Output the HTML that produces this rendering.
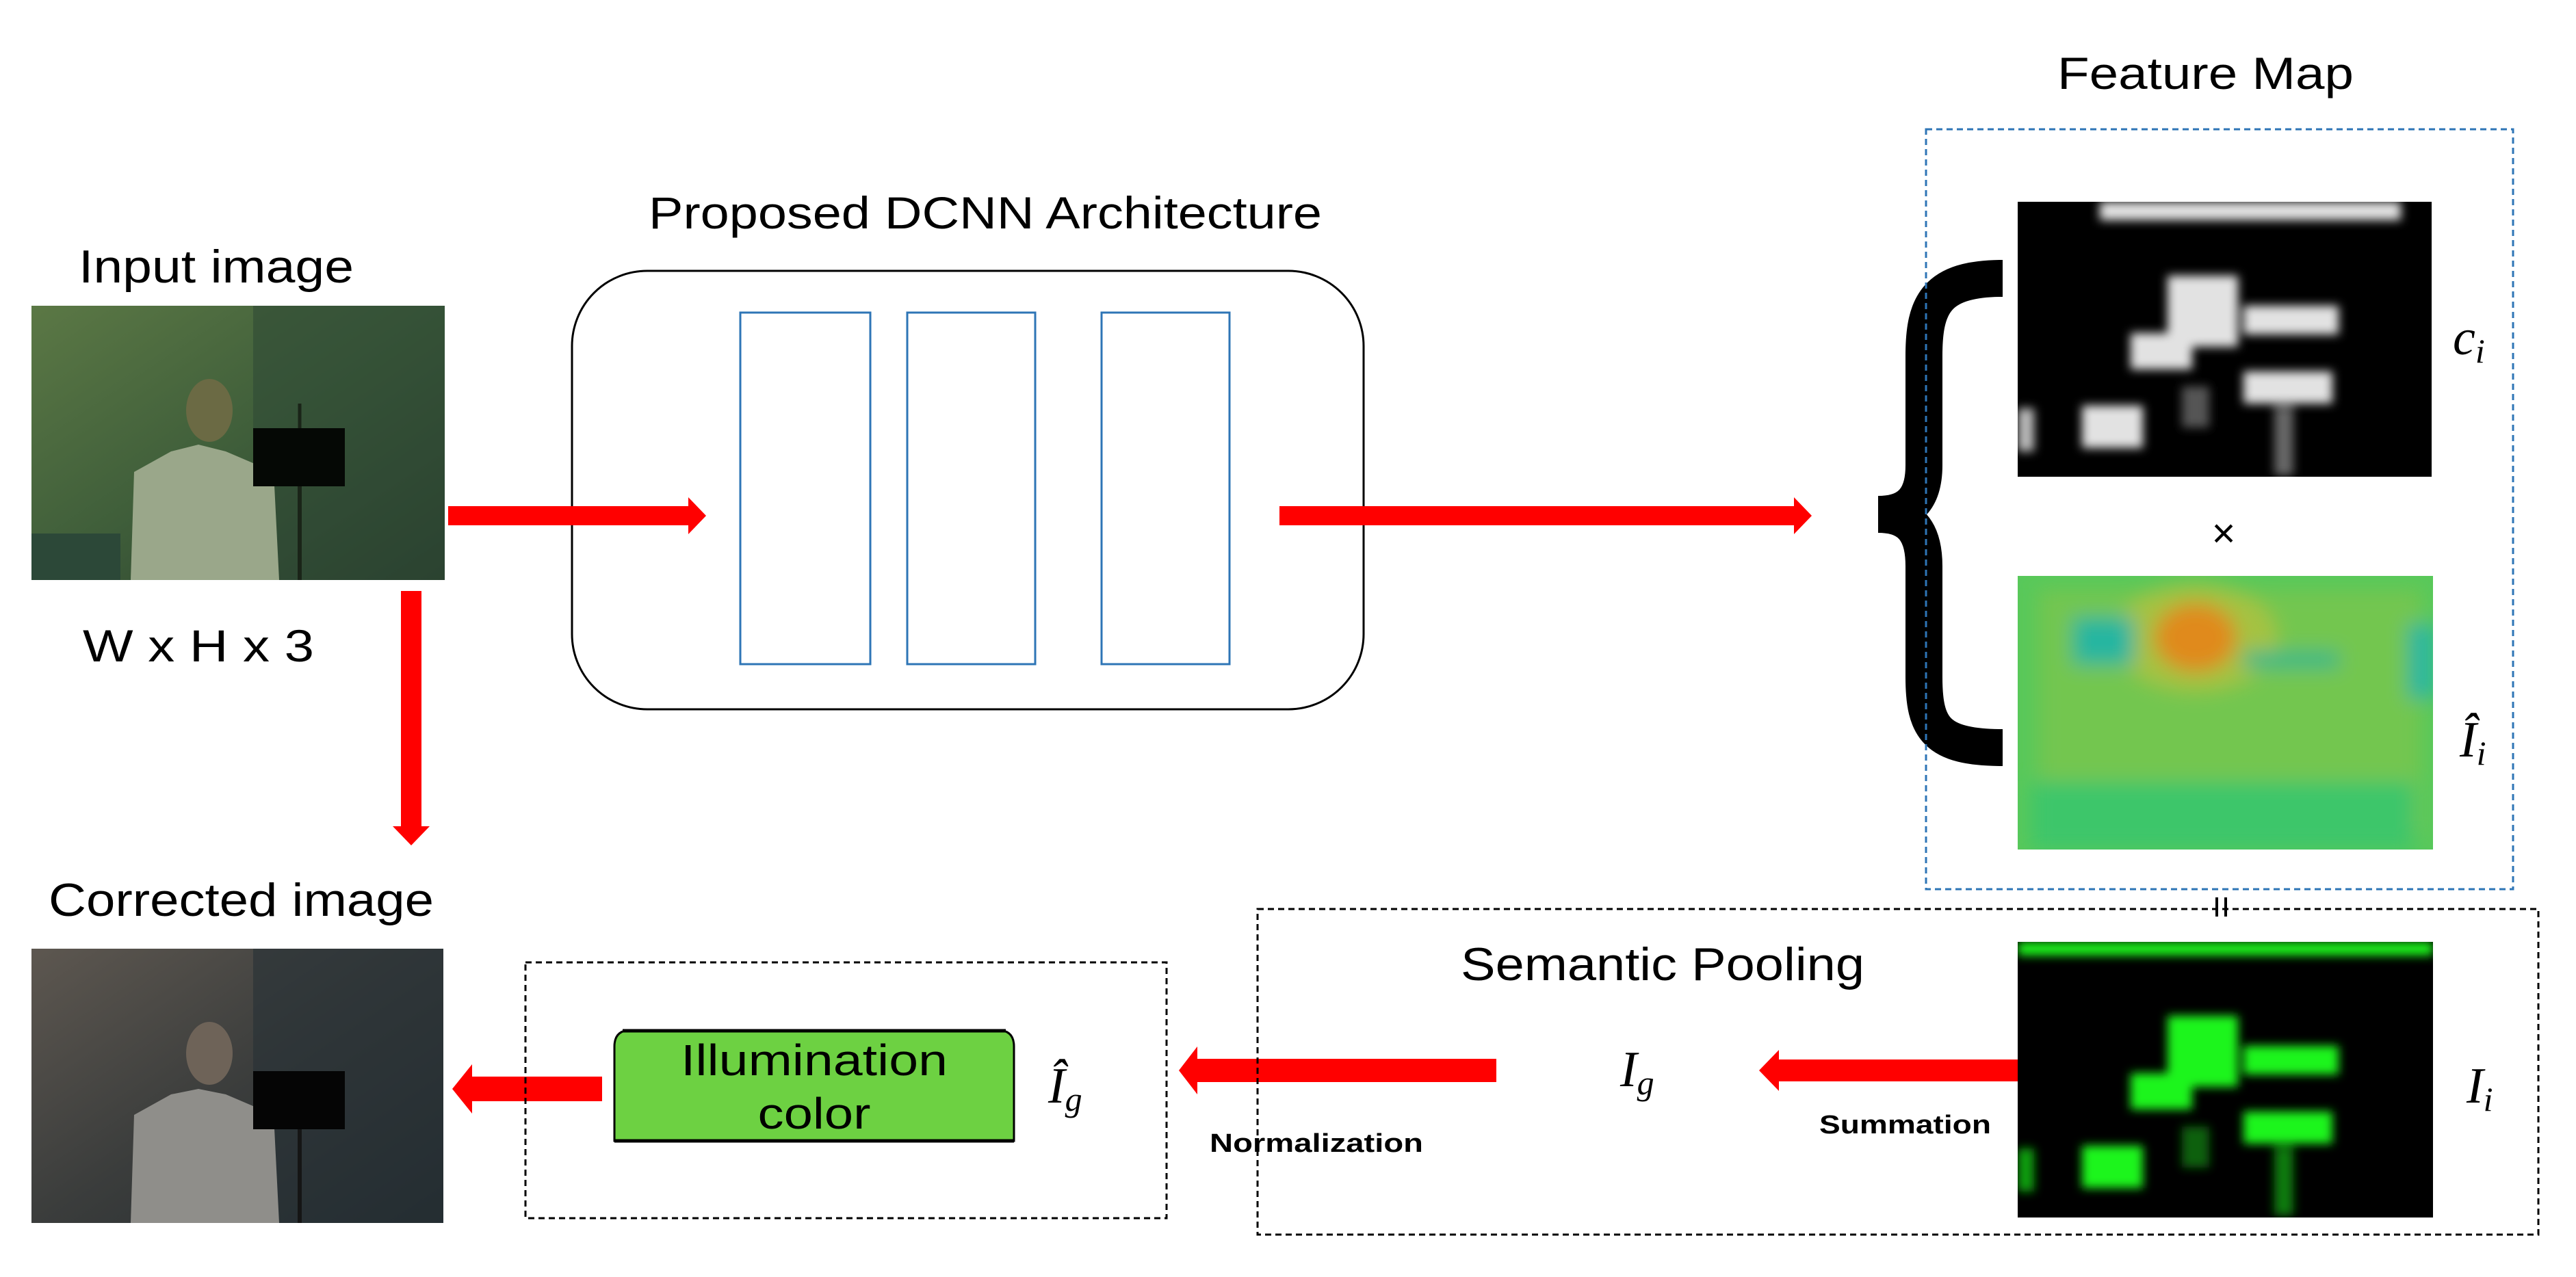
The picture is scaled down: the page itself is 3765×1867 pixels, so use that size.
<!DOCTYPE html>
<html><head><meta charset="utf-8"><style>html,body{margin:0;padding:0;background:#fff}svg{display:block}</style></head>
<body>
<svg width="3765" height="1867" viewBox="0 0 3765 1867" xmlns="http://www.w3.org/2000/svg">
<defs>
<filter id="bl" x="-10%" y="-10%" width="120%" height="120%"><feGaussianBlur stdDeviation="7"/></filter>
<filter id="bl2" x="-20%" y="-20%" width="140%" height="140%"><feGaussianBlur stdDeviation="14"/></filter>
<linearGradient id="ig" x1="0" y1="0" x2="1" y2="1"><stop offset="0" stop-color="#5b7845"/><stop offset="0.5" stop-color="#3f5e3a"/><stop offset="1" stop-color="#26392a"/></linearGradient>
<linearGradient id="cg" x1="0" y1="0" x2="1" y2="1"><stop offset="0" stop-color="#5d5750"/><stop offset="0.5" stop-color="#3b3d3c"/><stop offset="1" stop-color="#222a2e"/></linearGradient>
<clipPath id="c1"><rect x="2949" y="295" width="605" height="402"/></clipPath>
<clipPath id="c2"><rect x="2949" y="842" width="607" height="400"/></clipPath>
<clipPath id="c3"><rect x="2949" y="1377" width="607" height="403"/></clipPath>
</defs>
<g font-family="Liberation Sans, sans-serif" fill="#000">
<text x="3007" y="130" font-size="66" textLength="433" lengthAdjust="spacingAndGlyphs">Feature Map</text>
<text x="948" y="334" font-size="66" textLength="984" lengthAdjust="spacingAndGlyphs">Proposed DCNN Architecture</text>
<text x="115" y="413" font-size="68" textLength="402" lengthAdjust="spacingAndGlyphs">Input image</text>
<text x="121" y="967" font-size="66" textLength="338" lengthAdjust="spacingAndGlyphs">W x H x 3</text>
<text x="71" y="1339" font-size="68" textLength="563" lengthAdjust="spacingAndGlyphs">Corrected image</text>
<text x="2135" y="1433" font-size="68" textLength="590" lengthAdjust="spacingAndGlyphs">Semantic Pooling</text>
<text x="1768" y="1684" font-size="38" font-weight="bold" textLength="312" lengthAdjust="spacingAndGlyphs">Normalization</text>
<text x="2659" y="1657" font-size="38" font-weight="bold" textLength="251" lengthAdjust="spacingAndGlyphs">Summation</text>
</g>

<!-- input image -->
<rect x="46" y="447" width="604" height="401" fill="url(#ig)"/>
<rect x="370" y="447" width="280" height="401" fill="#2f4a35" opacity="0.6"/>
<rect x="46" y="780" width="130" height="68" fill="#2c4838"/>
<path d="M191 848 L196 690 L250 660 L290 650 L330 660 L400 690 L408 848 Z" fill="#9aa78a"/>
<ellipse cx="306" cy="600" rx="34" ry="46" fill="#6b6a44"/>
<rect x="370" y="626" width="134" height="85" fill="#050805"/>
<line x1="438" y1="711" x2="438" y2="848" stroke="#1a2418" stroke-width="6"/>
<line x1="438" y1="590" x2="438" y2="626" stroke="#1a2418" stroke-width="5"/>

<!-- corrected image -->
<rect x="46" y="1387" width="602" height="401" fill="url(#cg)"/>
<rect x="370" y="1387" width="278" height="401" fill="#263036" opacity="0.6"/>
<path d="M191 1788 L196 1630 L250 1600 L290 1592 L330 1600 L400 1630 L408 1788 Z" fill="#8f8e8a"/>
<ellipse cx="306" cy="1540" rx="34" ry="46" fill="#6e6358"/>
<rect x="370" y="1566" width="134" height="85" fill="#050505"/>
<line x1="438" y1="1651" x2="438" y2="1788" stroke="#151515" stroke-width="6"/>

<!-- DCNN box -->
<rect x="836" y="396" width="1157" height="641" rx="110" ry="110" fill="none" stroke="#000" stroke-width="3"/>
<g fill="none" stroke="#2e75b6" stroke-width="3">
<rect x="1082" y="457" width="190" height="514"/>
<rect x="1326" y="457" width="187" height="514"/>
<rect x="1610" y="457" width="187" height="514"/>
</g>

<!-- arrows -->
<g fill="#ff0000">
<polygon points="655,740 1006,740 1006,727 1032,754 1006,781 1006,768 655,768"/>
<polygon points="1870,740 2622,740 2622,727 2648,754 2622,781 2622,768 1870,768"/>
<polygon points="586,864 616,864 616,1208 628,1208 601,1236 574,1208 586,1208"/>
<polygon points="2949,1549 2600,1549 2600,1535 2571,1565 2600,1595 2600,1581 2949,1581"/>
<polygon points="2187,1548 1750,1548 1750,1530 1723,1565 1750,1600 1750,1582 2187,1582"/>
<polygon points="880,1574 690,1574 690,1556 661,1592 690,1628 690,1610 880,1610"/>
</g>

<!-- brace -->
<path d="M2927 407 C2830 407 2812 445 2812 520 L2812 680 C2812 728 2792 752 2745 752 C2792 752 2812 776 2812 828 L2812 990 C2812 1065 2830 1093 2927 1093" fill="none" stroke="#000" stroke-width="54"/>

<!-- feature map c_i -->
<rect x="2949" y="295" width="605" height="402" fill="#000"/>
<g clip-path="url(#c1)"><g filter="url(#bl)" fill="#e2e2e2" transform="translate(2949,295)">
<rect x="120" y="0" width="440" height="27"/>
<rect x="219" y="108" width="103" height="104"/>
<rect x="165" y="192" width="90" height="53"/>
<rect x="330" y="152" width="139" height="42"/>
<rect x="330" y="248" width="130" height="47"/>
<rect x="94" y="298" width="89" height="62"/>
<rect x="0" y="302" width="24" height="63" fill="#bbb"/>
<rect x="375" y="300" width="28" height="100" fill="#666"/>
<rect x="240" y="270" width="40" height="60" fill="#555"/>
</g></g>
<text x="3250" y="800" font-family="Liberation Sans, sans-serif" font-size="60" text-anchor="middle">×</text>

<!-- feature map I-hat -->
<rect x="2949" y="842" width="607" height="400" fill="#58c85a"/>
<g clip-path="url(#c2)"><g filter="url(#bl2)" transform="translate(2949,842)">
<rect x="30" y="20" width="560" height="360" fill="#86c54a" opacity="0.6"/>
<ellipse cx="260" cy="90" rx="120" ry="80" fill="#b9c23c" opacity="0.7"/>
<ellipse cx="260" cy="90" rx="60" ry="50" fill="#e08a1c"/>
<rect x="80" y="60" width="90" height="70" fill="#26b6a0"/>
<rect x="330" y="110" width="140" height="25" fill="#34b88a"/>
<rect x="20" y="300" width="560" height="100" fill="#3cc66a"/>
<rect x="570" y="70" width="40" height="110" fill="#2bb7a0"/>
</g></g>

<!-- feature map I_i -->
<rect x="2949" y="1377" width="607" height="403" fill="#000"/>
<g clip-path="url(#c3)"><g filter="url(#bl)" fill="#1df51d" transform="translate(2949,1377)">
<rect x="0" y="0" width="607" height="20"/>
<rect x="219" y="108" width="103" height="104"/>
<rect x="165" y="192" width="90" height="53"/>
<rect x="330" y="152" width="139" height="42"/>
<rect x="330" y="248" width="130" height="47"/>
<rect x="94" y="298" width="89" height="62"/>
<rect x="0" y="302" width="24" height="63" fill="#10a010"/>
<rect x="375" y="300" width="28" height="100" fill="#0c7a0c"/>
<rect x="240" y="270" width="40" height="60" fill="#0a600a"/>
</g></g>

<!-- math labels -->
<g font-family="Liberation Serif, serif" font-style="italic" fill="#000">
<text x="3585" y="518" font-size="74">c<tspan font-size="50" dy="12">i</tspan></text>
<text x="3595" y="1106" font-size="74">Î<tspan font-size="50" dy="12">i</tspan></text>
<text x="3605" y="1612" font-size="74">I<tspan font-size="50" dy="12">i</tspan></text>
<text x="2368" y="1588" font-size="74">I<tspan font-size="50" dy="12">g</tspan></text>
<text x="1532" y="1612" font-size="74">Î<tspan font-size="50" dy="12">g</tspan></text>
</g>

<!-- dashed boxes -->
<rect x="2815" y="189" width="858" height="1111" fill="none" stroke="#2e75b6" stroke-width="3" stroke-dasharray="9,6"/>
<rect x="1838" y="1329" width="1872" height="476" fill="none" stroke="#000" stroke-width="3" stroke-dasharray="9,6"/>
<rect x="768" y="1407" width="937" height="374" fill="none" stroke="#000" stroke-width="3" stroke-dasharray="9,6"/>
<line x1="3240" y1="1312" x2="3240" y2="1340" stroke="#000" stroke-width="4"/>
<line x1="3253" y1="1312" x2="3253" y2="1340" stroke="#000" stroke-width="4"/>

<!-- illumination color box -->
<path d="M898 1668 L898 1530 Q898 1506 922 1506 L1458 1506 Q1482 1506 1482 1530 L1482 1668 Z" fill="#6dd142" stroke="#000" stroke-width="3"/>
<line x1="910" y1="1507" x2="1470" y2="1507" stroke="#000" stroke-width="5"/>
<line x1="898" y1="1668" x2="1482" y2="1668" stroke="#000" stroke-width="5"/>
<g font-family="Liberation Sans, sans-serif" font-size="64" fill="#000" text-anchor="middle">
<text x="1190" y="1572" textLength="390" lengthAdjust="spacingAndGlyphs">Illumination</text>
<text x="1190" y="1650" textLength="165" lengthAdjust="spacingAndGlyphs">color</text>
</g>
</svg>
</body></html>
